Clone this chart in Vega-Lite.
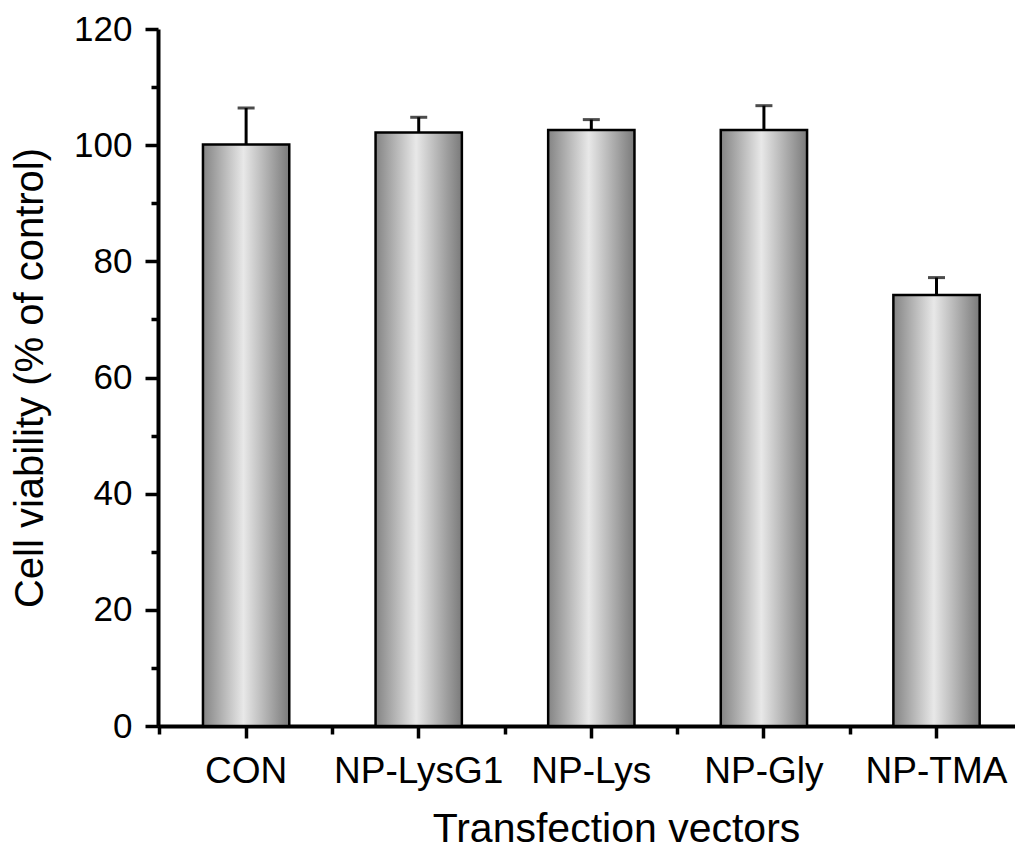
{
  "$schema": "https://vega.github.io/schema/vega-lite/v6.json",
  "width": 857,
  "height": 697,
  "autosize": {"type": "none"},
  "padding": {"left": 158, "top": 29, "right": 0, "bottom": 130},
  "background": "white",
  "config": {
    "view": {"stroke": null},
    "font": "Liberation Sans",
    "axis": {
      "labelColor": "black",
      "titleColor": "black",
      "titleFontWeight": "normal",
      "domainColor": "black",
      "tickColor": "black",
      "domainWidth": 4,
      "tickWidth": 3.5,
      "grid": false
    }
  },
  "data": {
    "values": [
      {"vector": "CON", "viability": 100.1, "upper": 106.4},
      {"vector": "NP-LysG1", "viability": 102.2, "upper": 104.8},
      {"vector": "NP-Lys", "viability": 102.6, "upper": 104.4},
      {"vector": "NP-Gly", "viability": 102.6, "upper": 106.8},
      {"vector": "NP-TMA", "viability": 74.2, "upper": 77.2}
    ]
  },
  "layer": [
    {
      "mark": {
        "type": "bar",
        "stroke": "black",
        "strokeWidth": 2.5,
        "fill": {
          "gradient": "linear",
          "x1": 0, "x2": 1, "y1": 0, "y2": 0,
          "stops": [
            {"offset": 0, "color": "#848484"},
            {"offset": 0.47, "color": "#e8e8e8"},
            {"offset": 1, "color": "#7a7a7a"}
          ]
        }
      },
      "encoding": {
        "x": {
          "field": "vector", "type": "nominal", "sort": null,
          "scale": {"paddingInner": 0.5, "paddingOuter": 0.2326, "align": 0.56},
          "axis": {
            "orient": "bottom",
            "title": "Transfection vectors",
            "labelAngle": 0,
            "labelFontSize": 37,
            "titleFontSize": 41,
            "tickSize": 12,
            "tickWidth": 3.5,
            "domainWidth": 4,
            "labelPadding": 15,
            "titlePadding": 20,
            "titleX": 458
          }
        },
        "y": {
          "field": "viability", "type": "quantitative",
          "scale": {"domain": [0, 120], "nice": false},
          "axis": {
            "title": "Cell viability (% of control)",
            "values": [0, 10, 20, 30, 40, 50, 60, 70, 80, 90, 100, 110, 120],
            "labelExpr": "datum.value % 20 === 0 ? datum.label : ''",
            "tickSize": {"condition": {"test": "datum.value % 20 === 0", "value": 13}, "value": 7},
            "tickWidth": 3.5,
            "domainWidth": 4,
            "labelFontSize": 35,
            "titleFontSize": 40,
            "labelPadding": 13,
            "titlePadding": 23
          }
        }
      }
    },
    {
      "mark": {"type": "rule", "strokeWidth": 3, "color": "black"},
      "encoding": {
        "x": {
          "field": "vector", "type": "nominal", "sort": null,
          "axis": {
            "orient": "bottom",
            "labels": false,
            "domain": false,
            "title": null,
            "tickSize": 8,
            "tickWidth": 3.5,
            "bandPosition": -0.5
          }
        },
        "y": {"field": "viability", "type": "quantitative", "axis": {"title": "Cell viability (% of control)"}},
        "y2": {"field": "upper"}
      }
    },
    {
      "mark": {"type": "tick", "thickness": 3, "size": 17, "color": "black"},
      "encoding": {
        "x": {"field": "vector", "type": "nominal", "sort": null, "axis": null},
        "y": {"field": "upper", "type": "quantitative", "axis": {"title": "Cell viability (% of control)"}}
      }
    }
  ],
  "resolve": {"axis": {"x": "independent"}}
}
